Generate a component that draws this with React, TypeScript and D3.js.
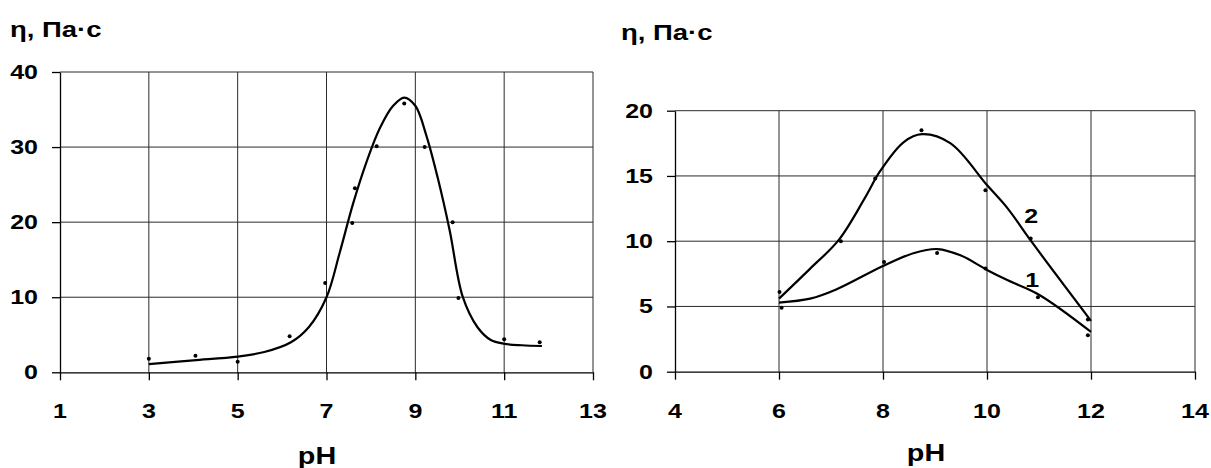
import { useRef, useEffect } from 'react';
import * as d3 from 'd3';

// left panel: measured points and the smoothed trend
const leftPh = [3, 4.05, 5, 6.17, 6.97, 7.58, 7.64, 8.13, 8.75, 9.21, 9.84, 9.97, 11.0, 11.8];
const leftEta = [1.8, 2.2, 1.4, 4.8, 11.9, 19.9, 24.5, 30.1, 35.8, 30.0, 20.0, 9.9, 4.4, 4.0];
const leftFitPh = [3, 4, 5, 5.6, 6.2, 6.6, 7, 7.3, 7.6, 7.9, 8.2, 8.5, 8.75, 9.0, 9.25, 9.5, 9.77, 10.07, 10.4, 10.7, 11, 11.4, 11.85];
const leftFitEta = [1.1, 1.6, 2.1, 2.7, 4, 6, 10, 16, 22.5, 28, 32.5, 35.5, 36.6, 35.5, 31.5, 26, 19, 10, 6, 4.3, 3.8, 3.6, 3.5];
const leftXTicks = [1, 3, 5, 7, 9, 11, 13];
const leftYTicks = [0, 10, 20, 30, 40];

// right panel: two series (1 and 2)
const ph1 = [6.05, 8.02, 9.04, 9.97, 10.98, 11.94];
const eta1 = [4.9, 8.4, 9.1, 7.9, 5.7, 2.8];
const fitPh1 = [6, 6.6, 7.1, 8, 8.6, 9.05, 9.5, 10, 10.4, 11, 12];
const fitEta1 = [5.3, 5.6, 6.3, 8.1, 9.1, 9.4, 8.9, 7.8, 7.0, 5.9, 3.05];
const ph2 = [6.01, 7.19, 7.85, 8.74, 9.97, 10.84, 11.94];
const eta2 = [6.1, 10.0, 14.8, 18.5, 13.9, 10.2, 4.0];
const fitPh2 = [6, 6.6, 7.15, 7.65, 7.95, 8.4, 8.75, 9.3, 10, 10.4, 10.85, 12];
const fitEta2 = [5.6, 7.9, 10.1, 13.3, 15.4, 17.6, 18.2, 17.5, 14.3, 12.5, 10, 3.9];
const rightXTicks = [4, 6, 8, 10, 12, 14];
const rightYTicks = [0, 5, 10, 15, 20];

const FONT = 'Arial, "Liberation Sans", sans-serif';
const STRETCH = 1.25;

type Pt = [number, number];
const zip = (a: number[], b: number[]): Pt[] => a.map((v, i) => [v, b[i]]);

interface PanelSpec {
    xr: [number, number];
    yr: [number, number];
    xDomain: [number, number];
    yDomain: [number, number];
    xTicks: number[];
    yTicks: number[];
    points: Pt[][];
    fits: Pt[][];
    titleX: number;
    titleY: number;
    phX: number;
    phY: number;
    labels: { text: string; x: number; y: number }[];
}

const panels: PanelSpec[] = [
    {
        xr: [60, 593], yr: [372.3, 72], xDomain: [1, 13], yDomain: [0, 40],
        xTicks: leftXTicks, yTicks: leftYTicks,
        points: [zip(leftPh, leftEta)], fits: [zip(leftFitPh, leftFitEta)],
        titleX: 10, titleY: 37, phX: 317, phY: 464, labels: [],
    },
    {
        xr: [675, 1195], yr: [371.7, 110.7], xDomain: [4, 14], yDomain: [0, 20],
        xTicks: rightXTicks, yTicks: rightYTicks,
        points: [zip(ph1, eta1), zip(ph2, eta2)], fits: [zip(fitPh1, fitEta1), zip(fitPh2, fitEta2)],
        titleX: 621, titleY: 40, phX: 926, phY: 461,
        labels: [{ text: '2', x: 10.85, y: 11.9 }, { text: '1', x: 10.87, y: 7.0 }],
    },
];

export default function App() {
    const svgRef = useRef<SVGSVGElement>(null);

    useEffect(() => {
        if (!svgRef.current) return;
        const svg = d3.select(svgRef.current);
        svg.selectAll('*').remove();

        const addText = (g: d3.Selection<SVGGElement, unknown, null, undefined>, x: number, y: number, s: string,
            size: number, anchor: string) => {
            g.append('text')
                .attr('transform', `translate(${x},${y}) scale(${STRETCH},1)`)
                .attr('text-anchor', anchor)
                .attr('font-family', FONT)
                .attr('font-weight', 'bold')
                .attr('font-size', size)
                .attr('fill', '#000')
                .text(s);
        };

        panels.forEach(p => {
            const x = d3.scaleLinear().domain(p.xDomain).range(p.xr);
            const y = d3.scaleLinear().domain(p.yDomain).range(p.yr);
            const g = svg.append('g');

            // Grid lines
            p.xTicks.slice(1).forEach(t => {
                g.append('line')
                    .attr('x1', x(t)).attr('x2', x(t))
                    .attr('y1', y(p.yDomain[1])).attr('y2', y(p.yDomain[0]))
                    .attr('stroke', '#2a2a2a').attr('stroke-width', 1);
            });
            p.yTicks.slice(1).forEach(t => {
                g.append('line')
                    .attr('x1', x(p.xDomain[0])).attr('x2', x(p.xDomain[1]))
                    .attr('y1', y(t)).attr('y2', y(t))
                    .attr('stroke', '#2a2a2a').attr('stroke-width', 1);
            });

            // Axes
            const xAxis = g.append('g')
                .attr('transform', `translate(0,${y(p.yDomain[0])})`)
                .call(d3.axisBottom(x).tickValues(p.xTicks).tickSize(8).tickSizeOuter(0).tickFormat(() => ''));
            const yAxis = g.append('g')
                .attr('transform', `translate(${x(p.xDomain[0])},0)`)
                .call(d3.axisLeft(y).tickValues(p.yTicks).tickSize(8).tickSizeOuter(0).tickFormat(() => ''));
            [xAxis, yAxis].forEach(a => {
                a.selectAll('.domain').attr('stroke', '#000').attr('stroke-width', 1.3);
                a.selectAll('.tick line').attr('stroke', '#000').attr('stroke-width', 1.3);
            });

            // Tick labels
            p.xTicks.forEach(t => addText(g, x(t), 418, String(t), 20, 'middle'));
            p.yTicks.forEach(t => addText(g, x(p.xDomain[0]) - 22, y(t) + 7, String(t), 20, 'end'));

            // Titles
            addText(g, p.titleX, p.titleY, 'η, Па·с', 22, 'start');
            addText(g, p.phX, p.phY, 'pH', 23, 'middle');

            // Curves
            const line = d3.line<Pt>()
                .x(d => x(d[0]))
                .y(d => y(d[1]))
                .curve(d3.curveCatmullRom.alpha(0.5));
            p.fits.forEach(f => {
                g.append('path')
                    .datum(f)
                    .attr('fill', 'none')
                    .attr('stroke', '#000')
                    .attr('stroke-width', 2.2)
                    .attr('d', line);
            });

            // Dots
            p.points.forEach(pts => {
                g.selectAll(null)
                    .data(pts)
                    .enter()
                    .append('circle')
                    .attr('cx', d => x(d[0]))
                    .attr('cy', d => y(d[1]))
                    .attr('r', 2)
                    .attr('fill', '#000');
            });

            // Series labels
            p.labels.forEach(l => addText(g, x(l.x), y(l.y) + 7, l.text, 20, 'middle'));
        });
    }, []);

    return (
        <div style={{ position: 'absolute', left: 0, top: 0 }}>
            <svg ref={svgRef} width={1211} height={468} style={{ display: 'block', background: '#fff' }} />
        </div>
    );
}
